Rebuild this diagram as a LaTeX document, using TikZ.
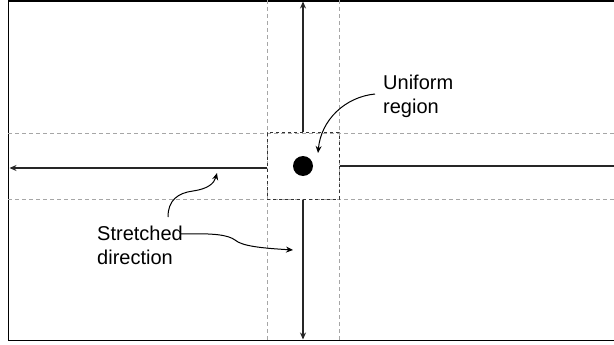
\documentclass[tikz,border=0pt]{standalone}
\usepackage{fontspec}
\setmainfont{Liberation Sans}
\usetikzlibrary{arrows.meta}
\begin{document}
\begin{tikzpicture}[x=1pt,y=-1pt,
        guide/.style={gray!70,dashed,line width=.7pt,dash pattern=on 4pt off 3pt},
        axis/.style={black!85,line width=1.5pt},
        pointer/.style={black,line width=1pt,-{Stealth[length=7pt,width=6pt]}},
        label/.style={font=\fontsize{20}{24}\selectfont,align=left,inner sep=0pt,anchor=north west}]
        \useasboundingbox (0,0) rectangle (614,345);
        % frame, open on the right
        \draw[line width=1.8pt] (616,.8) -- (8.5,.8) -- (8.5,340.5) -- (616,340.5);
        % guides through the uniform block
        \draw[guide] (267,0) -- (267,341) (339,0) -- (339,341);
        \draw[guide] (8,133) -- (614,133) (8,199) -- (614,199);
        \node[draw=black!80,dashed,line width=1pt,minimum width=72pt,minimum height=66pt,inner sep=0pt] (core) at (303,166) {};
        \node[circle,fill=black,minimum size=20pt,inner sep=0pt] (dot) at (303,166) {};
        % stretched axes
        \coordinate (top) at (303,1.5);
        \coordinate (bottom) at (303,339.5);
        \coordinate (left) at (9.5,168);
        \coordinate (right) at (615,166);
        \draw[axis,-{Stealth[length=7pt,width=6pt]}] (core.north) -- (top);
        \draw[axis,-{Stealth[length=7pt,width=6pt]}] (core.south) -- (bottom);
        \draw[axis,-{Stealth[length=7pt,width=6pt]}] (core.west |- left) -- (left);
        \draw[axis] (core.east |- right) -- (right);
        % labels
        \node[label] (uni) at (383,74.5) {Uniform\\region};
        \node[label] (str) at (97,226) {Stretched\\direction};
        \coordinate (u0) at (375,94);
        \coordinate (u1) at (318,153);
        \draw[pointer] (u0) .. controls (345,97) and (321,120) .. (u1);
        \coordinate (s0) at (168,217);
        \coordinate (s1) at (217,173);
        \draw[pointer] (s0) .. controls (168,200) and (178,193) .. (193,191) .. controls (207,189) and (214,184) .. (s1);
        \coordinate (t0) at (180,234);
        \coordinate (t1) at (293,250);
        \draw[pointer] (t0) .. controls (215,233) and (228,235) .. (235,240) .. controls (242,246) and (260,248) .. (t1);
\end{tikzpicture}
\end{document}
